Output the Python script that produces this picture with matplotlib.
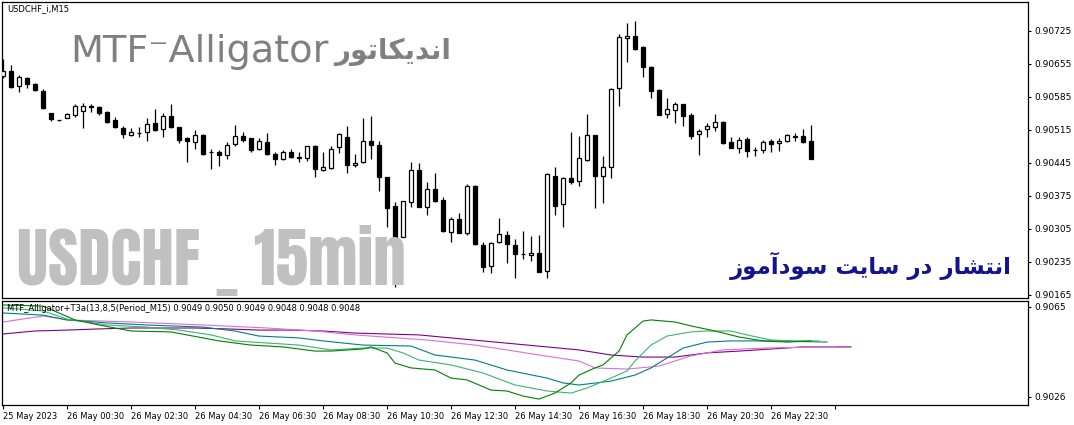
import numpy as np
import matplotlib
matplotlib.use('Agg')
import matplotlib.pyplot as plt

# USDCHF M15 candles, prices in points (1e-5), first bar 25 May 22:30
opens = [90630, 90640, 90608, 90625, 90613, 90598, 90551, 90536, 90540, 90547,
         90555, 90566, 90564, 90553, 90536, 90519, 90504, 90508, 90511, 90530,
         90517, 90545, 90521, 90498, 90490, 90504, 90468, 90468, 90462, 90485,
         90502, 90498, 90475, 90490, 90464, 90454, 90468, 90458, 90456, 90481,
         90430, 90434, 90479, 90500, 90441, 90447, 90492, 90483, 90415, 90354,
         90288, 90362, 90430, 90352, 90390, 90367, 90299, 90326, 90297, 90396,
         90271, 90227, 90277, 90292, 90271, 90252, 90250, 90254, 90216, 90417,
         90358, 90413, 90407, 90451, 90504, 90417, 90437, 90604, 90710, 90714,
         90691, 90649, 90600, 90549, 90557, 90570, 90547, 90507, 90517, 90521,
         90532, 90490, 90477, 90496, 90473, 90473, 90492, 90487, 90492, 90502,
         90502, 90492]
closes = [90640, 90606, 90627, 90613, 90600, 90562, 90538, 90536, 90549, 90566,
          90566, 90564, 90551, 90532, 90521, 90507, 90511, 90508, 90528, 90515,
          90545, 90521, 90494, 90492, 90504, 90464, 90468, 90462, 90483, 90502,
          90494, 90473, 90492, 90464, 90454, 90468, 90458, 90456, 90481, 90432,
          90437, 90475, 90507, 90441, 90445, 90492, 90483, 90415, 90350, 90286,
          90364, 90430, 90352, 90390, 90364, 90301, 90326, 90297, 90396, 90273,
          90224, 90275, 90294, 90273, 90252, 90252, 90254, 90214, 90422, 90354,
          90413, 90405, 90456, 90504, 90417, 90437, 90602, 90712, 90714, 90687,
          90649, 90598, 90547, 90560, 90570, 90545, 90502, 90513, 90523, 90532,
          90487, 90477, 90494, 90471, 90473, 90490, 90485, 90492, 90504, 90501,
          90490, 90454]
highs = [90666, 90653, 90632, 90627, 90615, 90602, 90551, 90537, 90551, 90570,
         90572, 90570, 90566, 90555, 90543, 90523, 90519, 90521, 90540, 90560,
         90551, 90570, 90521, 90500, 90515, 90507, 90475, 90473, 90490, 90526,
         90511, 90498, 90498, 90509, 90468, 90473, 90475, 90468, 90482, 90483,
         90468, 90481, 90509, 90523, 90464, 90540, 90545, 90492, 90416, 90362,
         90365, 90447, 90445, 90405, 90424, 90373, 90330, 90339, 90400, 90398,
         90277, 90277, 90328, 90301, 90284, 90301, 90290, 90292, 90424, 90437,
         90415, 90511, 90502, 90549, 90505, 90460, 90604, 90719, 90742, 90746,
         90693, 90651, 90601, 90583, 90574, 90571, 90551, 90517, 90530, 90549,
         90534, 90500, 90500, 90500, 90479, 90494, 90496, 90498, 90507, 90509,
         90517, 90526]
lows = [90625, 90604, 90596, 90604, 90598, 90560, 90534, 90535, 90540, 90543,
        90519, 90553, 90547, 90530, 90519, 90498, 90502, 90500, 90492, 90513,
        90500, 90519, 90487, 90447, 90475, 90462, 90432, 90439, 90454, 90481,
        90490, 90468, 90473, 90462, 90441, 90451, 90456, 90447, 90449, 90415,
        90429, 90432, 90466, 90424, 90437, 90446, 90454, 90386, 90309, 90182,
        90287, 90352, 90351, 90335, 90363, 90299, 90277, 90296, 90292, 90272,
        90214, 90212, 90275, 90233, 90201, 90241, 90237, 90213, 90201, 90335,
        90309, 90400, 90396, 90449, 90350, 90360, 90413, 90566, 90659, 90685,
        90627, 90583, 90546, 90540, 90530, 90523, 90496, 90462, 90500, 90513,
        90486, 90476, 90466, 90458, 90460, 90466, 90468, 90471, 90490, 90492,
        90487, 90453]

# MTF Alligator + T3 lines: (bar index, points)
green_x = [0, 5, 7, 9, 12, 14, 16, 21, 25, 27, 31, 35, 39, 41, 45, 46, 48, 49, 51, 54, 56,
           58, 61, 63, 65, 67, 69, 71, 72, 74, 75, 77, 78, 80, 81, 84, 86, 89, 92, 95, 98, 101]
green_y = [90659, 90654, 90624, 90594, 90572, 90559, 90546, 90542, 90516, 90503, 90485, 90477,
           90459, 90459, 90468, 90477, 90451, 90407, 90386, 90377, 90342, 90334, 90290, 90286,
           90264, 90251, 90277, 90321, 90355, 90386, 90399, 90459, 90529, 90589, 90594, 90585,
           90568, 90546, 90520, 90503, 90498, 90503]
seagreen_x = [0, 5, 8, 13, 18, 22, 26, 29, 33, 37, 41, 45, 48, 50, 52, 56, 60, 64, 68, 71, 73,
              76, 78, 79, 81, 83, 86, 88, 91, 93, 96, 99, 102]
seagreen_y = [90646, 90633, 90598, 90572, 90563, 90550, 90529, 90503, 90494, 90485, 90464,
              90472, 90472, 90451, 90420, 90399, 90364, 90312, 90286, 90277, 90299, 90342,
              90373, 90416, 90485, 90524, 90542, 90546, 90546, 90529, 90507, 90503, 90503]
teal_x = [0, 5, 8, 13, 18, 25, 29, 32, 37, 40, 45, 51, 54, 59, 63, 68, 70, 72, 76, 79, 81,
          83, 85, 88, 91, 96, 103]
teal_y = [90624, 90615, 90594, 90581, 90572, 90563, 90546, 90524, 90516, 90503, 90485, 90481,
          90442, 90420, 90377, 90342, 90321, 90312, 90329, 90355, 90386, 90429, 90472, 90498,
          90503, 90503, 90498]
orchid_x = [0, 5, 8, 16, 25, 33, 39, 44, 53, 59, 63, 67, 72, 74, 78, 82, 86, 90, 95, 102, 104]
orchid_y = [90585, 90611, 90594, 90585, 90572, 90559, 90546, 90529, 90507, 90485, 90464,
            90442, 90416, 90386, 90381, 90394, 90438, 90464, 90472, 90477, 90477]
purple_x = [0, 4, 8, 12, 16, 20, 24, 28, 32, 36, 40, 44, 48, 52, 56, 60, 64, 68, 72, 76, 80,
            84, 88, 92, 96, 100, 106]
purple_y = [90533, 90546, 90550, 90555, 90559, 90559, 90559, 90555, 90550, 90550, 90546,
            90537, 90533, 90529, 90516, 90503, 90490, 90477, 90464, 90442, 90433, 90433,
            90451, 90459, 90468, 90477, 90477]

price_ticks = [0.90165, 0.90235, 0.90305, 0.90375, 0.90445, 0.90515, 0.90585, 0.90655, 0.90725]
ind_ticks = [0.9026, 0.9065]
time_ticks = [0, 8, 16, 24, 32, 40, 48, 56, 64, 72, 80, 88, 96, 104]
time_labels = ['25 May 2023', '26 May 00:30', '26 May 02:30', '26 May 04:30', '26 May 06:30',
               '26 May 08:30', '26 May 10:30', '26 May 12:30', '26 May 14:30', '26 May 16:30',
               '26 May 18:30', '26 May 20:30', '26 May 22:30', '']

plt.rcParams['font.family'] = ['DejaVu Sans']

W, H = 1074, 425
fig = plt.figure(figsize=(W / 100, H / 100), dpi=100)
ax = fig.add_axes([2 / W, 1 - 298 / H, 1026 / W, 296 / H])
ax2 = fig.add_axes([2 / W, 1 - 405 / H, 1026 / W, 104 / H])

scale = 1e-5
o = np.array(opens) * scale
c = np.array(closes) * scale
hi = np.array(highs) * scale
lo = np.array(lows) * scale
x = np.arange(len(o))
up = c >= o
body_lo = np.minimum(o, c)
body_h = np.maximum(np.abs(c - o), 1e-7)

ax.vlines(x, lo, hi, color='black', lw=0.9, zorder=2)
ax.bar(x[up], body_h[up], bottom=body_lo[up], width=0.55, facecolor='white',
       edgecolor='black', lw=0.9, zorder=3)
ax.bar(x[~up], body_h[~up], bottom=body_lo[~up], width=0.55, facecolor='black',
       edgecolor='black', lw=0.9, zorder=3)

xlim = (-0.125, 128.125)
ax.set_xlim(*xlim)
ax.set_ylim(0.901586, 0.907865)
ax.set_xticks([])
ax.yaxis.tick_right()
ax.set_yticks(price_ticks)
ax.set_yticklabels(['%.5f' % v for v in price_ticks])
ax.tick_params(axis='y', direction='out', length=2.5, width=0.8, pad=2, labelsize=6.5)

# indicator window
for xs, ys, col in [(purple_x, purple_y, '#800080'), (orchid_x, orchid_y, '#DA70D6'),
                    (teal_x, teal_y, '#008080'), (seagreen_x, seagreen_y, '#3CB371'),
                    (green_x, green_y, '#008000')]:
    ax2.plot(xs, np.array(ys) * scale, color=col, lw=0.8)

ax2.set_xlim(*xlim)
ax2.set_ylim(0.902253, 0.90676)
ax2.yaxis.tick_right()
ax2.set_yticks(ind_ticks)
ax2.set_yticklabels(['%.4f' % v for v in ind_ticks])
ax2.tick_params(axis='y', direction='out', length=2.5, width=0.8, pad=2, labelsize=6.5)
ax2.set_xticks(time_ticks)
ax2.set_xticklabels(time_labels, ha='left')
ax2.tick_params(axis='x', direction='out', length=3, width=0.8, pad=2, labelsize=6)

for a in (ax, ax2):
    for s in a.spines.values():
        s.set_linewidth(0.9)
        s.set_color('black')

# texts
fig.text(7 / W, 1 - 9 / H, 'USDCHF_i,M15', fontsize=6, va='center', ha='left')
ax2.text(5 / 1026, 1 - 8 / 104,
         'MTF_Alligator+T3a(13,8,5(Period_M15) 0.9049 0.9050 0.9049 0.9048 0.9048 0.9048',
         transform=ax2.transAxes, fontsize=6, va='center', ha='left')

fig.text(70 / W, 1 - 52 / H, 'MTF\u207bAlligator', fontsize=27.5, color='#808080',
         va='center', ha='left')
# "اندیکاتور" written with presentation forms, visual order
fig.text(334 / W, 1 - 52 / H, '\ufead\ufeee\ufe97\ufe8e\ufb91\ufbfe\ufeaa\ufee7\ufe8d',
         fontsize=20, color='#808080', fontweight='bold', va='center', ha='left')

fig.text(17 / W, 1 - 261 / H, 'USDCHF _ 15min', fontsize=47, color='#C0C0C0',
         family=['Anton', 'DejaVu Sans'], va='center', ha='left')

# "انتشار در سایت سودآموز" in visual order
blue_txt = ('\ufeaf\ufeee\ufee3\ufe81\ufea9\ufeee\ufeb3 '
            '\ufe96\ufbfe\ufe8e\ufeb3 '
            '\ufead\ufea9 '
            '\ufead\ufe8e\ufeb8\ufe98\ufee7\ufe8d')
fig.text(1012 / W, 1 - 266 / H, blue_txt, fontsize=16.5, color='#14148C',
         fontweight='bold', va='center', ha='right')

fig.savefig('out.png', dpi=100, facecolor='white')
